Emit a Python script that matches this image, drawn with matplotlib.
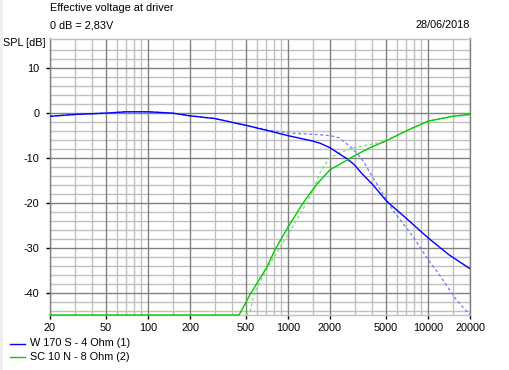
import matplotlib.pyplot as plt
import matplotlib.patches as mpatches
import matplotlib.lines as mlines
from matplotlib.ticker import FixedLocator, NullFormatter

plt.rcParams['font.family'] = ['Liberation Sans', 'DejaVu Sans']

# ---------- data ----------
w_freq = [20, 30, 50, 70, 100, 150, 200, 300, 500, 700, 1000, 1500, 1700, 2000,
          2630, 2970, 3370, 4040, 5080, 7010, 10000, 14130, 20000]
w_db = [-0.8, -0.4, -0.1, 0.2, 0.2, -0.1, -0.7, -1.3, -2.8, -3.9, -5.1, -6.3,
        -6.8, -7.8, -10.2, -11.5, -13.5, -16.0, -19.7, -23.5, -27.8, -31.6, -34.7]

w_sys_freq = [20, 30, 50, 70, 100, 150, 200, 300, 500, 700, 1000, 1500, 1700,
              2000, 2330, 2780, 3100, 3460, 3800, 4550, 5690, 7890, 10000, 12240,
              15850, 17500, 20000]
w_sys_db = [-0.8, -0.4, -0.1, 0.2, 0.2, -0.1, -0.7, -1.3, -2.8, -3.8, -4.5, -4.8,
            -4.9, -5.1, -5.6, -7.5, -8.9, -10.8, -13.0, -17.0, -21.9, -27.7, -32.6,
            -36.3, -41.5, -43.0, -45.0]

sc_freq = [20, 448, 500, 536, 706, 809, 1000, 1291, 1600, 2000, 2630, 3100, 3860,
           5080, 7060, 10000, 15000, 20000]
sc_db = [-45.0, -45.0, -42.3, -40.5, -34.4, -30.5, -25.5, -20.0, -16.0, -12.7,
         -10.6, -9.3, -7.8, -6.2, -4.0, -1.9, -0.8, -0.4]

sc_sys_freq = [500, 536, 578, 700, 876, 1100, 1370, 1550, 1740, 2000, 2400, 2935,
               3860, 4700, 5080, 7060, 10000, 15000, 20000]
sc_sys_db = [-45.0, -44.4, -40.0, -35.0, -30.0, -25.0, -20.0, -16.5, -12.6, -10.0,
             -8.8, -7.8, -7.1, -6.5, -6.2, -4.0, -1.9, -0.8, -0.4]

x_major = [20, 50, 100, 200, 500, 1000, 2000, 5000, 10000, 20000]
x_minor = [30, 40, 60, 70, 80, 90, 150, 300, 400, 600, 700, 800, 900, 1500,
           3000, 4000, 6000, 7000, 8000, 9000, 15000]
y_major = [10, 0, -10, -20, -30, -40]
y_minor = [14, 12, 8, 6, 4, 2, -2, -4, -6, -8, -12, -14, -16, -18, -22, -24,
           -26, -28, -32, -34, -36, -38, -42, -44]

W, H = 509, 370
fig = plt.figure(figsize=(W / 100, H / 100), dpi=100)
fig.patch.set_facecolor('white')
fig.patches.append(mpatches.Rectangle((0, 0), 3 / W, 1, transform=fig.transFigure,
                                      facecolor='#f0f0f0', edgecolor='none'))

x0, x1, ytop, ybot = 50, 470, 38.5, 315
ax = fig.add_axes([x0 / W, (H - ybot) / H, (x1 - x0) / W, (ybot - ytop) / H])
ax.set_xscale('log')
ax.set_xlim(20, 20000)
ax.set_ylim(-45, 16.5)

# grid
light, dark = '#c0c0c0', '#808080'
for f in x_minor:
    ax.axvline(f, color=light, lw=1, zorder=1)
for v in y_minor:
    ax.axhline(v, color=light, lw=1, zorder=1)
for f in x_major:
    ax.axvline(f, color=dark, lw=1, zorder=1.5)
for v in y_major:
    ax.axhline(v, color=dark, lw=1, zorder=1.5)

for s in ['top', 'bottom']:
    ax.spines[s].set_color(light)
for s in ['left', 'right']:
    ax.spines[s].set_color(dark)
for s in ax.spines.values():
    s.set_linewidth(1)

# curves
ax.plot(w_sys_freq, w_sys_db, color='#8080ff', lw=1, ls=(0, (2.2, 1.8)), zorder=3)
ax.plot(sc_sys_freq, sc_sys_db, color='#80e080', lw=1, ls=(0, (2.2, 1.8)), zorder=3)
ax.plot(w_freq, w_db, color='#0000ff', lw=1, zorder=4)
ax.plot(sc_freq, sc_db, color='#00cc00', lw=1, zorder=4, clip_on=False)

# ticks
ax.xaxis.set_major_locator(FixedLocator(x_major))
ax.xaxis.set_minor_locator(FixedLocator([]))
ax.xaxis.set_minor_formatter(NullFormatter())
ax.set_xticklabels([str(f) for f in x_major])
ax.yaxis.set_major_locator(FixedLocator(y_major))
ax.set_yticklabels([str(v) for v in y_major])
ax.tick_params(axis='x', length=3, width=1, color='black', pad=3, labelsize=7.8)
ax.tick_params(axis='y', length=3, width=1, color='black', pad=4.5, labelsize=7.8)

# texts
fs = 7.8
fig.text(50 / W, 1 - 8 / H, 'Effective voltage at driver', fontsize=fs, va='center', ha='left')
fig.text(50 / W, 1 - 25 / H, '0 dB = 2,83V', fontsize=fs, va='center', ha='left')
fig.text(470 / W, 1 - 25 / H, '28/06/2018', fontsize=fs, va='center', ha='right')
fig.text(3 / W, 1 - 43 / H, 'SPL [dB]', fontsize=fs, va='center', ha='left')

# legend
for yy, col, lab in [(343.5, '#0000ff', 'W 170 S - 4 Ohm (1)'),
                     (356.5, '#00cc00', 'SC 10 N - 8 Ohm (2)')]:
    fig.add_artist(mlines.Line2D([10 / W, 25 / W], [1 - yy / H, 1 - yy / H],
                                 color=col, lw=1, transform=fig.transFigure))
    fig.text(30 / W, 1 - yy / H, lab, fontsize=fs, va='center', ha='left')

fig.savefig('out.png', dpi=100, facecolor='white')
